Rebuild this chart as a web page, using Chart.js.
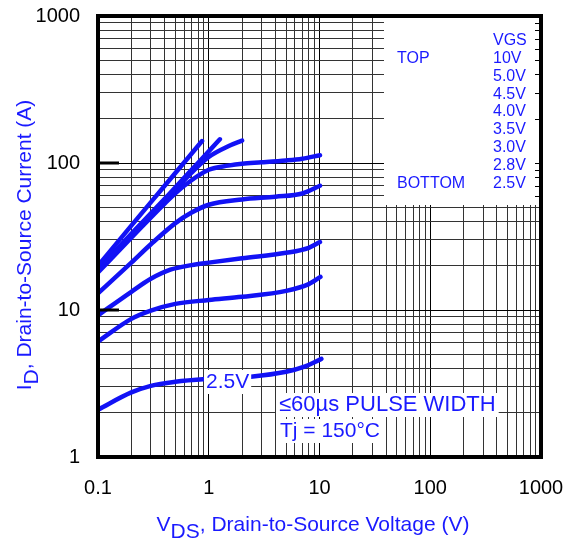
<!DOCTYPE html>
<html>
<head>
<meta charset="utf-8">
<script src="https://cdn.jsdelivr.net/npm/chart.js@4/dist/chart.umd.min.js"></script>
<style>
  html, body { margin: 0; padding: 0; background: #fff; }
</style>
</head>
<body>
<canvas id="chart" width="577" height="545"></canvas>
<script>
// gate voltages, top to bottom
const vgsLabels = ['10V', '5.0V', '4.5V', '4.0V', '3.5V', '3.0V', '2.8V', '2.5V'];

// VDS (V) / ID (A), one pair of arrays per curve
const vds10 = [0.1, 0.2, 0.4, 0.87];
const id10  = [20, 37.5, 70, 141];
const vds50 = [0.1, 0.2, 0.4, 0.7, 1.0, 1.26];
const id50  = [19, 33, 57, 90, 120, 145];
const vds45 = [0.1, 0.2, 0.4, 0.7, 1.0, 1.5, 2.0];
const id45  = [18.5, 32, 55, 86, 110, 130, 142];
const vds40 = [0.1, 0.2, 0.4, 0.6, 1.0, 1.5, 2.0, 3.0, 5.0, 7.0, 10.1];
const id40  = [18, 31, 53, 70, 90, 96, 99, 101, 104, 107, 113];
const vds35 = [0.1, 0.2, 0.3, 0.5, 0.7, 1.0, 2.0, 4.0, 7.0, 10.1];
const id35  = [13, 21, 28, 39, 46, 52, 56.5, 59, 62, 70];
const vds30 = [0.1, 0.2, 0.3, 0.45, 0.7, 1.0, 2.0, 5.0, 8.0, 10.1];
const id30  = [9.2, 13.3, 16.3, 18.8, 20.2, 21, 22.5, 24.5, 26.5, 29];
const vds28 = [0.1, 0.2, 0.3, 0.5, 1.0, 2.0, 5.0, 8.0, 10.2];
const id28  = [6.1, 8.7, 9.9, 11, 11.7, 12.3, 13.5, 15, 16.8];
const vds25 = [0.1, 0.2, 0.3, 0.5, 1.0, 2.4, 5.0, 7.2, 10.4];
const id25  = [2.1, 2.75, 3.05, 3.25, 3.4, 3.52, 3.8, 4.1, 4.65];

// axis decades and their labels
const xDecades = [0.1, 1, 10, 100, 1000];
const xTickLabels = ['0.1', '1', '10', '100', '1000'];
const yDecades = [1, 10, 100, 1000];
const yTickLabels = ['1', '10', '100', '1000'];

const FONT = "'Liberation Sans', Arial, Helvetica, sans-serif";
const BLUE = '#1212f5';
const TEXTBLUE = '#1a1aff';

function logTicks(decades) {
  const out = [];
  for (let i = 0; i < decades.length - 1; i++) {
    for (let m = 1; m <= 9; m++) out.push({ value: decades[i] * m });
  }
  out.push({ value: decades[decades.length - 1] });
  return out;
}

function pts(xs, ys) {
  return xs.map((v, i) => ({ x: v, y: ys[i] }));
}

const series = [
  [vds10, id10], [vds50, id50], [vds45, id45], [vds40, id40],
  [vds35, id35], [vds30, id30], [vds28, id28], [vds25, id25]
];

const datasets = series.map((s, i) => ({
  label: vgsLabels[i],
  data: pts(s[0], s[1]),
  borderColor: BLUE,
  borderWidth: 4.5,
  pointRadius: 0,
  fill: false,
  cubicInterpolationMode: 'monotone',
  borderCapStyle: 'round',
  borderJoinStyle: 'round'
}));

function textBox(ctx, str, x, y, font, pad) {
  ctx.font = font;
  const w = ctx.measureText(str).width;
  ctx.fillStyle = '#fff';
  ctx.fillRect(x - pad, y - 12, w + pad * 2, 24);
  ctx.fillStyle = TEXTBLUE;
  ctx.textAlign = 'left';
  ctx.textBaseline = 'middle';
  ctx.fillText(str, x, y);
}

const decor = {
  id: 'decor',
  beforeDatasetsDraw(chart) {
    const { ctx, chartArea: a, scales: { x, y } } = chart;
    // white panel behind the legend
    const bx = Math.round(x.getPixelForValue(38));
    const by = Math.round(y.getPixelForValue(52));
    ctx.save();
    ctx.fillStyle = '#fff';
    ctx.fillRect(bx, a.top, a.right - bx, by - a.top);
    ctx.strokeStyle = '#000';
    ctx.lineWidth = 1;
    ctx.beginPath();
    y.ticks.forEach(t => {
      const py = Math.round(y.getPixelForValue(t.value)) + 0.5;
      if (py < by && py > a.top) { ctx.moveTo(a.right - 6, py); ctx.lineTo(a.right, py); }
    });
    ctx.stroke();
    ctx.restore();
  },
  afterDatasetsDraw(chart) {
    const { ctx, chartArea: a, scales: { x, y } } = chart;
    ctx.save();
    // curve label and test conditions
    textBox(ctx, '2.5V', 206, 382, '21px ' + FONT, 2);
    textBox(ctx, '\u226460\u00b5s PULSE WIDTH', 279, 405, '22px ' + FONT, 3);
    textBox(ctx, 'Tj = 150\u00b0C', 280, 431, '21px ' + FONT, 3);

    // legend
    ctx.font = '16px ' + FONT;
    ctx.fillStyle = TEXTBLUE;
    ctx.textBaseline = 'middle';
    ctx.textAlign = 'left';
    ctx.fillText('VGS', 493, 41);
    vgsLabels.forEach((l, i) => ctx.fillText(l, 493, 58.5 + i * 17.8));
    ctx.fillText('TOP', 397, 58.5);
    ctx.fillText('BOTTOM', 397, 58.5 + 7 * 17.8);

    // heavy frame
    ctx.strokeStyle = '#000';
    ctx.lineWidth = 4;
    ctx.strokeRect(a.left, a.top, a.right - a.left, a.bottom - a.top);
    // heavy decade ticks on the left edge
    ctx.fillStyle = '#000';
    yDecades.forEach(v => {
      const py = y.getPixelForValue(v);
      ctx.fillRect(a.left, py - 1.5, 21, 3);
    });
    ctx.restore();
  },
  afterDraw(chart) {
    const { ctx } = chart;
    ctx.save();
    ctx.fillStyle = TEXTBLUE;
    ctx.font = '21px ' + FONT;
    ctx.textBaseline = 'alphabetic';
    ctx.textAlign = 'left';
    // x title with subscript
    const xParts = [['V', 0], ['DS', 7], [', Drain-to-Source Voltage (V)', 0]];
    let total = xParts.reduce((s, p) => s + ctx.measureText(p[0]).width, 0);
    let cx = 313 - total / 2;
    xParts.forEach(p => { ctx.fillText(p[0], cx, 531 + p[1]); cx += ctx.measureText(p[0]).width; });
    // y title with subscript, rotated
    const yParts = [['I', 0], ['D', 7], [', Drain-to-Source Current (A)', 0]];
    total = yParts.reduce((s, p) => s + ctx.measureText(p[0]).width, 0);
    ctx.translate(31, 245);
    ctx.rotate(-Math.PI / 2);
    cx = -total / 2;
    yParts.forEach(p => { ctx.fillText(p[0], cx, p[1]); cx += ctx.measureText(p[0]).width; });
    ctx.restore();
  }
};

new Chart(document.getElementById('chart'), {
  type: 'line',
  data: { datasets: datasets },
  plugins: [decor],
  options: {
    responsive: false,
    animation: false,
    layout: { padding: { left: 0, right: 36, top: 16, bottom: 0 } },
    plugins: { legend: { display: false }, tooltip: { enabled: false } },
    scales: {
      x: {
        type: 'logarithmic',
        min: 0.1,
        max: 1000,
        afterBuildTicks: s => { s.ticks = logTicks(xDecades); },
        afterFit: s => { s.height = 88; s.paddingLeft = 0; s.paddingRight = 0; },
        border: { display: false },
        grid: {
          drawTicks: false,
          lineWidth: 1,
          color: c => (c.tick && xDecades.includes(c.tick.value)) ? '#000' : '#333'
        },
        ticks: {
          autoSkip: false,
          maxRotation: 0,
          padding: 19,
          color: '#000',
          font: { family: FONT, size: 20 },
          callback: v => { const i = xDecades.indexOf(v); return i >= 0 ? xTickLabels[i] : ''; }
        }
      },
      y: {
        type: 'logarithmic',
        min: 1,
        max: 1000,
        afterBuildTicks: s => { s.ticks = logTicks(yDecades); },
        afterFit: s => { s.width = 98; s.paddingTop = 0; s.paddingBottom = 0; },
        border: { display: false },
        grid: {
          drawTicks: false,
          lineWidth: 1,
          color: c => (c.tick && yDecades.includes(c.tick.value)) ? '#000' : '#333'
        },
        ticks: {
          autoSkip: false,
          padding: 18,
          color: '#000',
          font: { family: FONT, size: 20 },
          callback: v => { const i = yDecades.indexOf(v); return i >= 0 ? yTickLabels[i] : ''; }
        }
      }
    }
  }
});
</script>
</body>
</html>
